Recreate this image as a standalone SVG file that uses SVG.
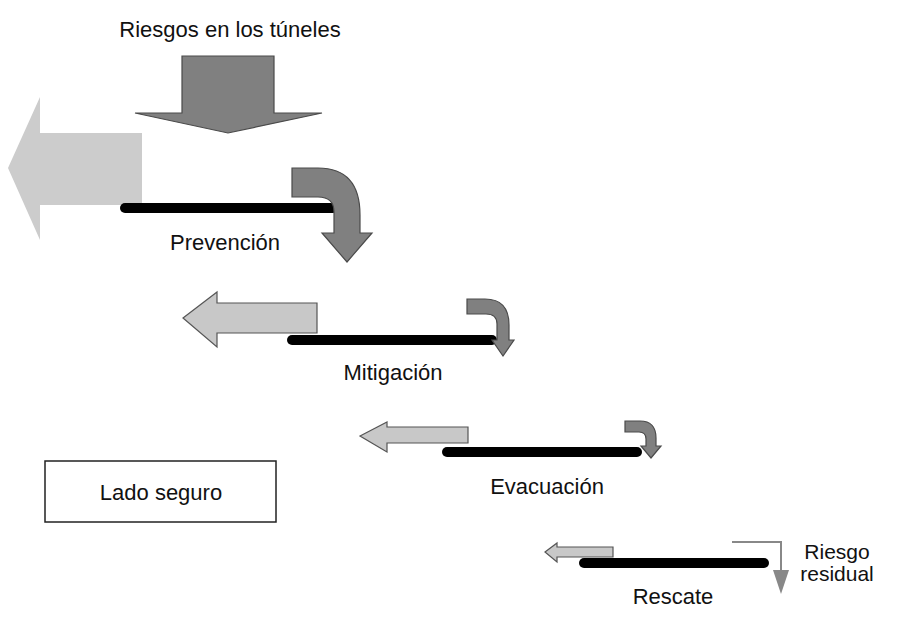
<svg xmlns="http://www.w3.org/2000/svg" width="898" height="622" viewBox="0 0 898 622">
<style>
text{font-family:"Liberation Sans",Arial,sans-serif;font-size:22px;fill:#111;text-anchor:middle}
.dark{fill:#808080;stroke:#4a4a4a;stroke-width:1.2}
.light{fill:#c8c8c8;stroke:#555;stroke-width:1.2}
.bar{stroke:#000;stroke-width:10;stroke-linecap:round;fill:none}
</style>
<rect width="898" height="622" fill="#fff"/>
<g id="title">
<text x="230" y="37">Riesgos en los túneles</text>
<path class="dark" d="M182,56 L274,56 L274,113 L322,113 L228,133 L135,113 L182,113 Z"/>
</g>
<g id="prevencion">
<path d="M8,168 L40,97 L40,133 L142,133 L142,205 L40,205 L40,240 Z" fill="#cccccc"/>
<line class="bar" x1="125" y1="208" x2="333" y2="208"/>
<path class="dark" d="M292,168 L318,168 Q360,168 360,215 L360,233 L372,233 L347,262 L322,233 L334,233 L334,212 Q334,197 318,197 L292,197 Z"/>
<text x="225" y="250">Prevención</text>
</g>
<g id="mitigacion">
<path class="light" d="M183,318 L217,292 L217,303 L317,303 L317,333 L217,333 L217,347 Z"/>
<line class="bar" x1="292" y1="340" x2="492" y2="340"/>
<path class="dark" d="M467,299 L485,299 Q509,299 509,325 L509,340 L514,340 L503,356 L492,340 L497,340 L497,324 Q497,314 486,314 L467,314 Z"/>
<text x="393" y="380">Mitigación</text>
</g>
<g id="evacuacion">
<path class="light" d="M360,436 L387,422 L387,427 L468,427 L468,443 L387,443 L387,452 Z"/>
<line class="bar" x1="447" y1="452" x2="637" y2="452"/>
<path class="dark" d="M625,421 L640,421 Q656,421 656,438 L656,446 L661,446 L651,458 L641,446 L646,446 L646,439 Q646,432 639,432 L625,432 Z"/>
<text x="547" y="494">Evacuación</text>
</g>
<g id="rescate">
<path class="light" d="M545,552 L557,543 L557,547 L613,547 L613,557 L557,557 L557,562 Z"/>
<line class="bar" x1="584" y1="563" x2="764" y2="563"/>
<text x="673" y="604">Rescate</text>
</g>
<g id="riesgo-residual">
<path d="M732,542 L781,542 L781,572" fill="none" stroke="#888" stroke-width="2"/>
<path d="M773,570 L789,570 L781,594 Z" fill="#888"/>
<text x="837" y="559" style="font-size:21px">Riesgo</text>
<text x="837" y="581" style="font-size:21px">residual</text>
</g>
<g id="lado-seguro">
<rect x="45" y="461" width="231" height="61" fill="#fff" stroke="#222" stroke-width="1.5"/>
<text x="161" y="500">Lado seguro</text>
</g>
</svg>
